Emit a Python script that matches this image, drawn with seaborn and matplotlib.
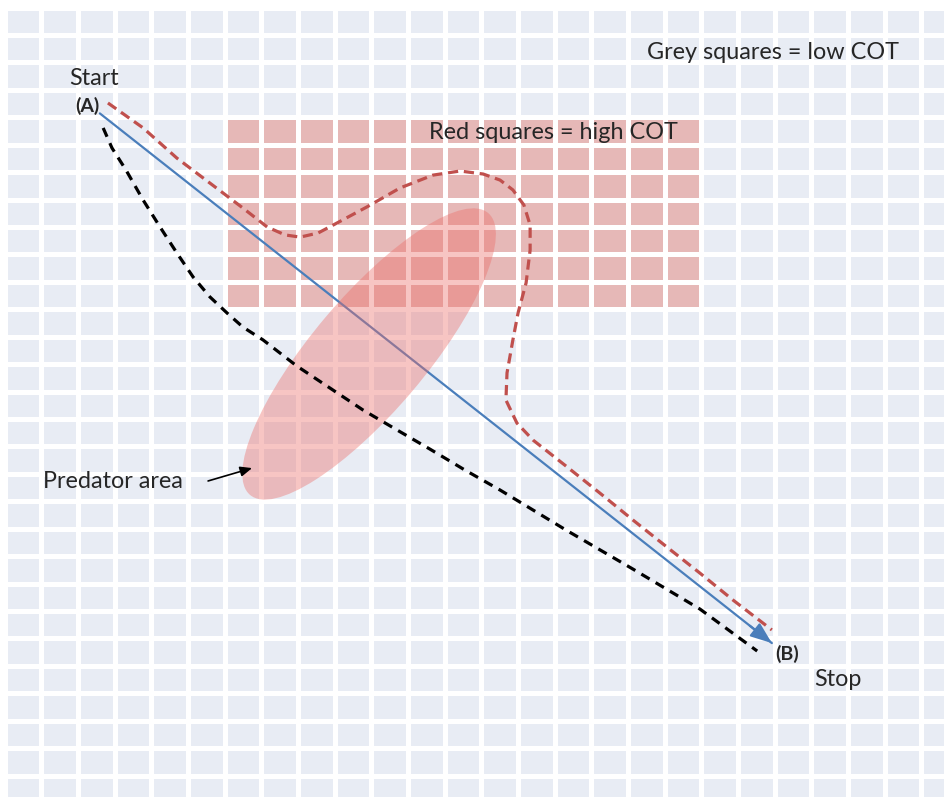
import numpy as np
import pandas as pd
import matplotlib
matplotlib.use("Agg")
import matplotlib.pyplot as plt
from matplotlib.colors import ListedColormap
from matplotlib.patches import Ellipse
from matplotlib.transforms import Affine2D
import seaborn as sns

# Grid of squares: 0 = low COT (grey), 1 = high COT (red)
n_rows, n_cols = 29, 26
red_rows = (4, 11)
red_cols = (6, 19)

# Paths in grid units (column, row), row counted downward from the top
direct_x = [2.60, 20.92]
direct_y = [3.86, 23.17]

cot_path_x = [2.82, 3.78, 4.70, 5.60, 6.50, 7.16, 7.65, 8.06, 8.55, 8.96, 9.88, 10.78,
              11.68, 12.42, 13.05, 13.51, 13.86, 14.16, 14.33, 14.33, 14.22, 14.00,
              13.86, 13.70, 13.67, 13.97, 14.41, 15.34, 16.23, 17.13, 18.06, 18.96,
              19.86, 20.92]
cot_path_y = [3.48, 4.39, 5.49, 6.40, 7.31, 8.00, 8.29, 8.37, 8.22, 7.93, 7.27, 6.58,
              6.11, 5.96, 6.07, 6.29, 6.65, 7.20, 7.93, 8.84, 10.04, 11.14,
              12.12, 13.32, 14.31, 15.15, 15.77, 16.75, 17.70, 18.68, 19.67, 20.62,
              21.60, 22.69]

pred_path_x = [2.69, 2.93, 3.31, 3.78, 4.24, 4.70, 5.14, 5.60, 6.07, 6.50, 7.05, 7.97,
               8.87, 9.77, 10.70, 11.60, 12.55, 13.51, 15.31, 17.13, 18.96, 20.52]
pred_path_y = [4.39, 5.12, 5.92, 7.02, 8.00, 8.95, 9.82, 10.55, 11.14, 11.65, 12.12, 13.07,
               13.87, 14.67, 15.40, 16.10, 16.86, 17.59, 19.05, 20.47, 21.93, 23.46]

# predator area: centre (grid units), size in pixels, tilt
pred_center = (9.94, 12.63)
pred_size = (369, 114)
pred_angle = -49.8

CELL_W, CELL_H = 36.68, 27.43

GREY = "#E8ECF4"
RED = "#E6B8B7"
BLUE = "#4A7EBB"
RED_LINE = "#C0504D"

sns.set_style("white")
plt.rcParams["font.family"] = ["Lato", "DejaVu Sans"]

cot = np.zeros((n_rows, n_cols))
cot[red_rows[0]:red_rows[1], red_cols[0]:red_cols[1]] = 1

fig = plt.figure(figsize=(9.45, 7.97), dpi=100)
ax = fig.add_axes([4.5 / 945, (797 - 803) / 797, n_cols * CELL_W / 945, n_rows * CELL_H / 797])

sns.heatmap(cot, cmap=ListedColormap([GREY, RED]), cbar=False, linewidths=2.2,
            linecolor="white", xticklabels=False, yticklabels=False, ax=ax)

direct = pd.DataFrame({"x": direct_x, "y": direct_y})
sns.lineplot(data=direct, x="x", y="y", sort=False, estimator=None, color=BLUE,
             linewidth=1.6, ax=ax, zorder=3)
ax.annotate("", xy=(direct_x[-1], direct_y[-1]),
            xytext=(direct_x[-1] - 0.6, direct_y[-1] - 0.6 * 529 / 672 * CELL_W / CELL_H),
            arrowprops=dict(arrowstyle="-|>,head_length=1.3,head_width=0.5", color=BLUE,
                            lw=1.6, shrinkA=0, shrinkB=0), zorder=3)

ell = Ellipse((0, 0), width=pred_size[0], height=pred_size[1], angle=pred_angle,
              facecolor=(0.93, 0.43, 0.41), alpha=0.4, edgecolor="none",
              transform=Affine2D().scale(1 / CELL_W, 1 / CELL_H).translate(*pred_center) + ax.transData,
              zorder=4)
ax.add_patch(ell)

cot_df = pd.DataFrame({"x": cot_path_x, "y": cot_path_y})
sns.lineplot(data=cot_df, x="x", y="y", sort=False, estimator=None, color=RED_LINE,
             linewidth=2.3, linestyle=(0, (3.2, 1.8)), ax=ax, zorder=5)

pred_df = pd.DataFrame({"x": pred_path_x, "y": pred_path_y})
sns.lineplot(data=pred_df, x="x", y="y", sort=False, estimator=None, color="black",
             linewidth=2.3, linestyle=(0, (3.0, 2.2)), ax=ax, zorder=5)

ax.annotate("", xy=(6.75, 16.79), xytext=(5.55, 17.26),
            arrowprops=dict(arrowstyle="-|>,head_length=0.7,head_width=0.3", color="black",
                            lw=1.2, shrinkA=0, shrinkB=0), zorder=6)

fs = 16.8
ax.text(2.45, 2.83, "Start", fontsize=fs, ha="center", va="baseline")
ax.text(2.26, 3.57, "(A)", fontsize=14, fontweight="bold", ha="center", va="center")
ax.text(21.33, 23.57, "(B)", fontsize=14, fontweight="bold", ha="center", va="center")
ax.text(22.71, 24.74, "Stop", fontsize=fs, ha="center", va="baseline")
ax.text(1.05, 17.52, "Predator area", fontsize=fs, ha="left", va="baseline")
ax.text(17.52, 1.89, "Grey squares = low COT", fontsize=fs, ha="left", va="baseline")
ax.text(11.57, 4.80, "Red squares = high COT", fontsize=fs, ha="left", va="baseline")

ax.set_xlabel("")
ax.set_ylabel("")
ax.axis("off")

fig.savefig("out.png", dpi=100, facecolor="white")
